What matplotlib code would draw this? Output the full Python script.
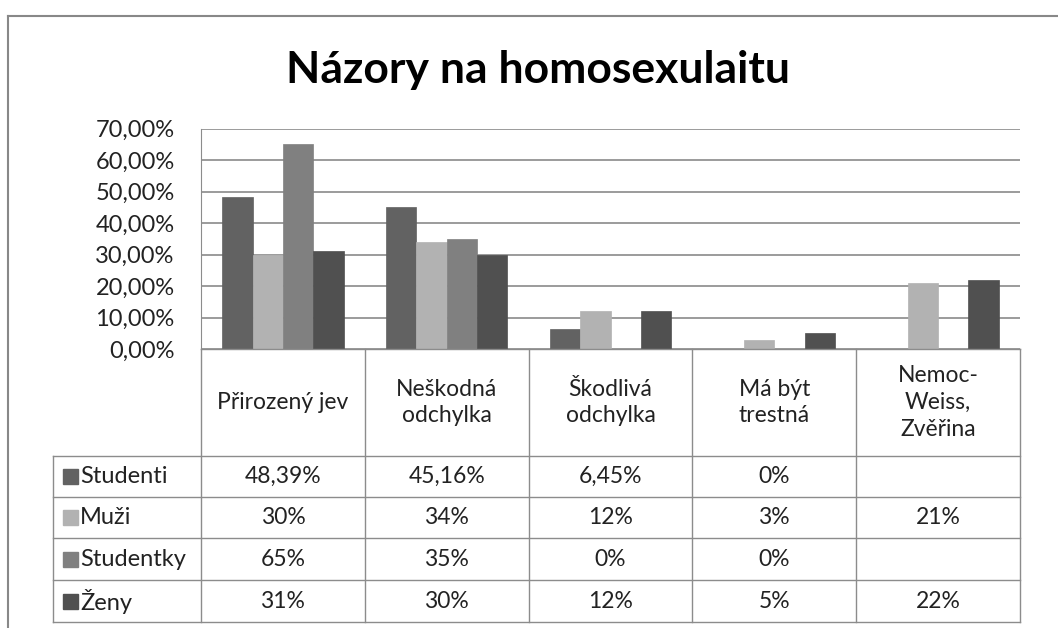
import numpy as np
import matplotlib
matplotlib.use('Agg')
import matplotlib.pyplot as plt
from matplotlib.transforms import blended_transform_factory
from matplotlib.patches import Rectangle
from matplotlib.ticker import FuncFormatter

plt.rcParams['font.family'] = ['Lato', 'DejaVu Sans']

# data
categories = ['Přirozený jev', 'Neškodná\nodchylka', 'Škodlivá\nodchylka',
              'Má být\ntrestná', 'Nemoc-\nWeiss,\nZvěřina']
series = ['Studenti', 'Muži', 'Studentky', 'Ženy']
studenti = [48.39, 45.16, 6.45, 0, np.nan]
muzi = [30, 34, 12, 3, 21]
studentky = [65, 35, 0, 0, np.nan]
zeny = [31, 30, 12, 5, 22]
table_text = [
    ['48,39%', '45,16%', '6,45%', '0%', ''],
    ['30%', '34%', '12%', '3%', '21%'],
    ['65%', '35%', '0%', '0%', ''],
    ['31%', '30%', '12%', '5%', '22%'],
]
colors = ['#626262', '#b2b2b2', '#808080', '#505050']

W, H = 1058, 628
fig = plt.figure(figsize=(W / 100, H / 100), dpi=100)

def fy(ypx):
    return 1 - ypx / H

def fx(xpx):
    return xpx / W

# plot area in pixels
left, right, top, bottom = 201, 1020, 128.5, 349
ax = fig.add_axes([fx(left), fy(bottom), fx(right) - fx(left), fy(top) - fy(bottom)])

x = np.arange(len(categories))
bw = 0.185
for i, (vals, c) in enumerate(zip([studenti, muzi, studentky, zeny], colors)):
    ax.bar(x + (i - 1.5) * bw, np.array(vals) / 100, bw, color=c,
           edgecolor=c, lw=0.5, zorder=3)

ax.set_xlim(-0.5, 4.5)
ax.set_ylim(0, 0.70)
ax.set_yticks(np.arange(0, 0.71, 0.1))
ax.yaxis.set_major_formatter(FuncFormatter(lambda v, p: f'{v*100:.2f}%'.replace('.', ',')))
ax.set_xticks([])
ax.tick_params(axis='y', length=0, pad=19, labelsize=17, colors='#222222')
ax.grid(axis='y', color='#8a8a8a', lw=1.2, zorder=0)
for s in ['top', 'right', 'bottom']:
    ax.spines[s].set_visible(False)
ax.spines['left'].set_color('#8c8c8c')

# title
fig.text(fx(538), fy(83), 'Názory na homosexulaitu', ha='center', va='baseline',
         fontsize=32, fontweight='bold')

# outer frame
fig.add_artist(plt.Line2D([fx(8), fx(8)], [fy(16), 0], color='#888888', lw=1.5))
fig.add_artist(plt.Line2D([fx(8), 1], [fy(16), fy(16)], color='#888888', lw=1.5))

# data table
tr = blended_transform_factory(ax.transData, fig.transFigure)
lc = '#8c8c8c'
row_y = [349, 456, 497, 538, 580, 622]
for yp in row_y[1:]:
    fig.add_artist(plt.Line2D([fx(53), fx(right)], [fy(yp), fy(yp)], color=lc, lw=1))
fig.add_artist(plt.Line2D([fx(left), fx(right)], [fy(349), fy(349)], color=lc, lw=1))
fig.add_artist(plt.Line2D([fx(53), fx(53)], [fy(456), fy(622)], color=lc, lw=1))
for b in np.arange(-0.5, 4.6, 1):
    fig.add_artist(plt.Line2D([b, b], [fy(349), fy(622)], color=lc, lw=1, transform=tr))

for j, cat in enumerate(categories):
    fig.text(j, fy((349 + 456) / 2), cat, transform=tr, ha='center', va='center',
             multialignment='center', fontsize=16.5, linespacing=1.35, color='#222222')

for i, name in enumerate(series):
    yc = (row_y[i + 1] + row_y[i + 2]) / 2
    fig.add_artist(Rectangle((fx(63), fy(yc + 7.5)), fx(15), 15 / H,
                             transform=fig.transFigure, color=colors[i]))
    fig.text(fx(80), fy(yc), name, ha='left', va='center', fontsize=17, color='#222222')
    for j, t in enumerate(table_text[i]):
        fig.text(j, fy(yc), t, transform=tr, ha='center', va='center',
                 fontsize=16.5, color='#222222')

fig.savefig('out.png', dpi=100, facecolor='white')
